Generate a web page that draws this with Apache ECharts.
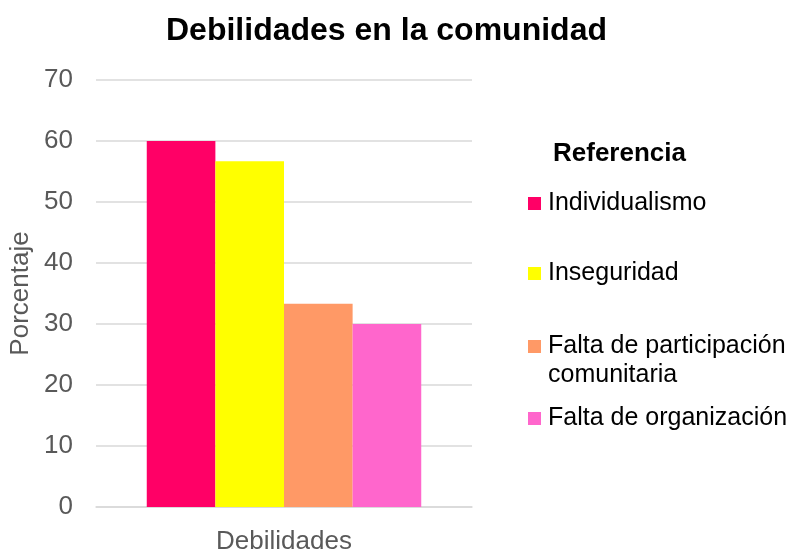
<!DOCTYPE html>
<html>
<head>
<meta charset="utf-8">
<script src="https://cdn.jsdelivr.net/npm/echarts@6/dist/echarts.min.js"></script>
<style>
  html, body { margin: 0; padding: 0; background: #fff; }
  #chart { width: 790px; height: 557px; }
</style>
</head>
<body>
<div id="chart"></div>
<script>
// datos del grafico
var categorias = ['Debilidades'];
var nombres = ['Individualismo', 'Inseguridad', 'Falta de participación', 'Falta de organización'];
var valores = [60, 56.7, 33.3, 30];
var colores = ['#FF0066', '#FFFF00', '#FF9966', '#FF66CC'];
var legendTops = [186, 256, 329, 401];

var font = '"Liberation Sans", Arial, sans-serif';
var myChart = echarts.init(document.getElementById('chart'));

var series = nombres.map(function (n, i) {
    return {
        name: n,
        type: 'bar',
        data: [valores[i]],
        barGap: '0%',
        barCategoryGap: '27%',
        itemStyle: { color: colores[i] }
    };
});

// una leyenda por elemento para respetar el espaciado original
var legends = nombres.map(function (n, i) {
    return {
        data: [n],
        left: 523,
        top: legendTops[i],
        orient: 'vertical',
        icon: 'rect',
        itemWidth: 13,
        itemHeight: 13,
        selectedMode: false,
        textStyle: { fontFamily: font, fontSize: 25, color: '#000', padding: [0, 0, 0, 2] }
    };
});

var option = {
    animation: false,
    backgroundColor: '#fff',
    title: {
        text: 'Debilidades en la comunidad',
        left: 161,
        top: 10,
        textStyle: { fontFamily: font, fontSize: 32, fontWeight: 'bold', color: '#000' }
    },
    legend: legends,
    graphic: [
        {
            type: 'text', left: 553, top: 141,
            style: { text: 'Referencia', fontFamily: font, fontSize: 26, fontWeight: 'bold', fill: '#000' }
        },
        {
            type: 'text', left: 548, top: 363,
            style: { text: 'comunitaria', fontFamily: font, fontSize: 25, fill: '#000' }
        }
    ],
    grid: { left: 96, right: 318, top: 80, bottom: 50 },
    xAxis: {
        type: 'category',
        data: categorias,
        axisLine: { show: true, lineStyle: { color: '#d9d9d9', width: 1.5 } },
        axisTick: { show: false },
        axisLabel: { fontFamily: font, fontSize: 26, color: '#595959', margin: 22 }
    },
    yAxis: {
        type: 'value',
        min: 0,
        max: 70,
        interval: 10,
        name: 'Porcentaje',
        nameLocation: 'middle',
        nameGap: 62,
        nameTextStyle: { fontFamily: font, fontSize: 26, color: '#595959' },
        axisLine: { show: false },
        axisTick: { show: false },
        axisLabel: { fontFamily: font, fontSize: 26, color: '#595959', margin: 23 },
        splitLine: { lineStyle: { color: '#d9d9d9', width: 1.5 } }
    },
    series: series
};

myChart.setOption(option);
</script>
</body>
</html>
